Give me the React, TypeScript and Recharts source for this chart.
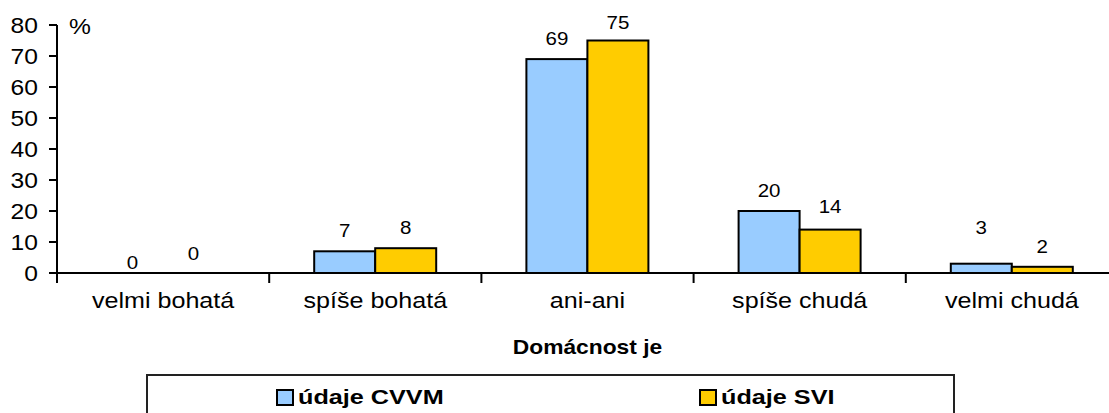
import React from 'react'
import { BarChart, Bar, XAxis, YAxis, Legend } from 'recharts'

const categories = ['velmi bohatá', 'spíše bohatá', 'ani-ani', 'spíše chudá', 'velmi chudá']
const cvvm = [0, 7, 69, 20, 3]
const svi = [0, 8, 75, 14, 2]
const yTicks = [0, 10, 20, 30, 40, 50, 60, 70, 80]
const seriesNames = ['údaje CVVM', 'údaje SVI']

const data = categories.map((c, i) => ({ name: c, cvvm: cvvm[i], svi: svi[i] }))

const FONT = '"Liberation Sans", Arial, sans-serif'
const W = 1120
const H = 413
const YW = 57
const MR = 2
const BAND = (W - YW - MR) / categories.length
const BLUE = '#99CCFF'
const YELLOW = '#FFCC00'

// excel put a couple of the blue labels at odd heights
const cvvmLift = [11, 21, 21, 21, 37]
const sviLift = [20, 21, 19, 24, 21]

const YTick = ({ x, y, payload }: any) => (
  <text transform={`translate(${x},${y}) scale(1.12,1)`} textAnchor="end" dy="0.36em"
    fontFamily={FONT} fontSize={22} fill="#000">{payload.value}</text>
)

const XTick = ({ x, y, payload }: any) => (
  <g>
    <line x1={x - BAND / 2} x2={x - BAND / 2} y1={y} y2={y + 10} stroke="#000" strokeWidth={2} />
    <text transform={`translate(${x},${y + 35}) scale(1.14,1)`} textAnchor="middle"
      fontFamily={FONT} fontSize={22} fill="#000">{payload.value}</text>
  </g>
)

// bar + its value label; the label is drawn even when the bar is 0 high
const barShape = (fill: string, vals: number[], lift: number[]) => (p: any) => (
  <g>
    {p.height > 0 && (
      <rect x={p.x} y={p.y} width={p.width} height={p.height} fill={fill} stroke="#000" strokeWidth={2} />
    )}
    <text transform={`translate(${p.x + p.width / 2},${p.y - lift[p.index] + 7}) scale(1.08,1)`} textAnchor="middle"
      fontFamily={FONT} fontSize={19} fill="#000">{vals[p.index]}</text>
  </g>
)

const LegendBox = () => (
  <div style={{ width: 809, height: 60, border: '2px solid #222', boxSizing: 'border-box', position: 'relative', fontFamily: FONT }}>
    {[BLUE, YELLOW].map((c, i) => (
      <div key={i} style={{ position: 'absolute', left: i ? 551 : 128, top: 9, display: 'flex', alignItems: 'center', whiteSpace: 'nowrap' }}>
        <span style={{ width: 14, height: 13, background: c, border: '2px solid #000', display: 'inline-block' }} />
        <span style={{ fontWeight: 'bold', fontSize: 21, marginLeft: 4, display: 'inline-block', transform: 'scale(1.2,1)', transformOrigin: 'left center' }}>
          {seriesNames[i]}
        </span>
      </div>
    ))}
  </div>
)

export default function App() {
  return (
    <div style={{ position: 'absolute', left: 0, top: 0, width: 1109, height: H, overflow: 'hidden', background: '#fff' }}>
      <BarChart width={W} height={H} data={data} margin={{ top: 25, left: 0, right: MR, bottom: 110 }}
        barCategoryGap={45} barGap={0}>
        <XAxis dataKey="name" height={30} axisLine={{ stroke: '#000', strokeWidth: 2 }} tickLine={false}
          tickSize={0} tickMargin={0} tick={<XTick />} interval={0}
          label={{
            content: ({ viewBox }: any) => (
              <text transform={`translate(${viewBox.x + viewBox.width / 2},${viewBox.y + 81}) scale(1.14,1)`}
                textAnchor="middle" fontFamily={FONT} fontWeight="bold" fontSize={20} fill="#000">Domácnost je</text>
            ),
          }} />
        <YAxis width={YW} domain={[0, 80]} ticks={yTicks} interval={0} axisLine={{ stroke: '#000', strokeWidth: 2 }}
          tickLine={{ stroke: '#000', strokeWidth: 2 }} tickSize={8} tickMargin={11} tick={<YTick />}
          label={{
            content: ({ viewBox }: any) => (
              <text transform={`translate(${viewBox.x + viewBox.width + 12},${viewBox.y + 9}) scale(1.12,1)`}
                fontFamily={FONT} fontSize={22} fill="#000">%</text>
            ),
          }} />
        <Legend layout="horizontal" verticalAlign="middle" align="center"
          wrapperStyle={{ top: 374, left: 146, width: 809 }} content={() => <LegendBox />} />
        <Bar dataKey="cvvm" name={seriesNames[0]} fill={BLUE} isAnimationActive={false}
          shape={barShape(BLUE, cvvm, cvvmLift)} />
        <Bar dataKey="svi" name={seriesNames[1]} fill={YELLOW} isAnimationActive={false}
          shape={barShape(YELLOW, svi, sviLift)} />
      </BarChart>
    </div>
  )
}
